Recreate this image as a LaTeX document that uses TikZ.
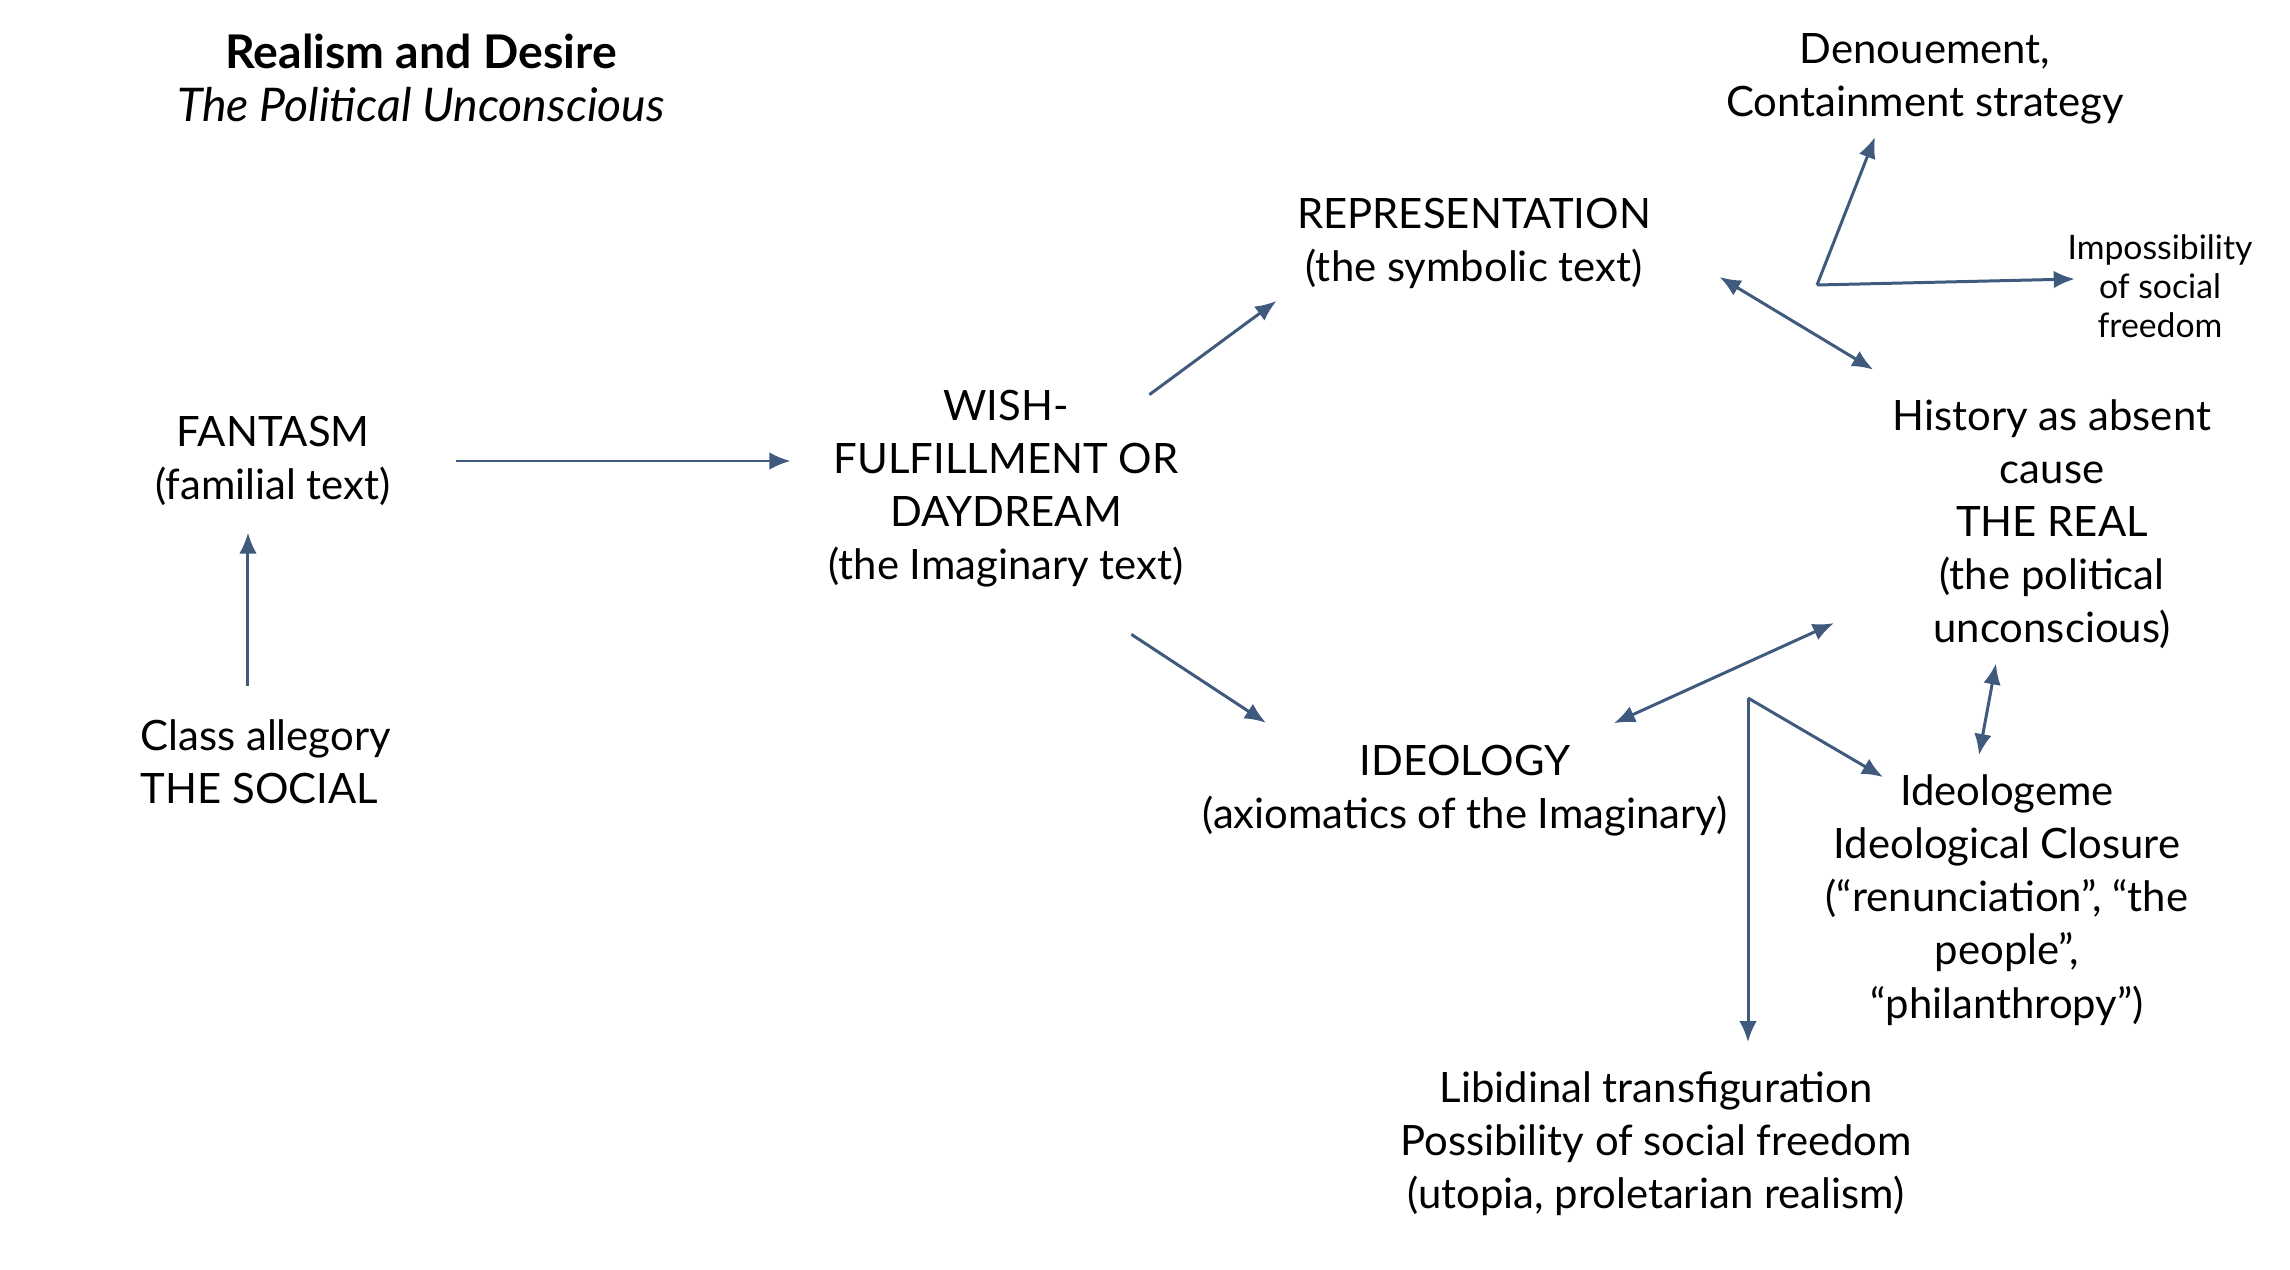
\documentclass[tikz,border=0pt]{standalone}
\usepackage{fontspec}
\setmainfont{Lato}
\usepackage{tikz}
\usetikzlibrary{positioning,arrows.meta}
\definecolor{linkblue}{HTML}{3F5A7D}

\begin{document}
\begin{tikzpicture}[x=0.01cm,y=-0.01cm,
    txt/.style={align=center,inner sep=0pt,font=\fontsize{11.9}{15.1}\selectfont},
    smalltxt/.style={align=center,inner sep=0pt,font=\fontsize{9.6}{11.1}\selectfont},
    headtxt/.style={align=center,inner sep=0pt,font=\fontsize{13.2}{15.1}\selectfont},
    link/.style={-{Latex[length=6pt,width=5pt]},draw=linkblue,line width=0.85pt},
    twoway/.style={{Latex[length=6pt,width=5pt]}-{Latex[length=6pt,width=5pt]},draw=linkblue,line width=0.85pt}]
    \useasboundingbox (0,0) rectangle (2290,1270);
    % headings
    \node[headtxt] (title) at (421,78) {\textbf{Realism and Desire}\\\textit{The Political Unconscious}};
    % left and middle
    \node[txt] (fantasm) at (273,461) {FANTASM\\(familial text)};
    \node[txt,align=left,anchor=west] (social) at (140,762) {Class allegory\\THE SOCIAL};
    \node[txt] (wish) at (1006,489) {WISH-\\FULFILLMENT OR\\DAYDREAM\\(the Imaginary text)};
    \node[txt] (repr) at (1474,243) {REPRESENTATION\\(the symbolic text)};
    \node[txt] (ideology) at (1465,791) {IDEOLOGY\\(axiomatics of the Imaginary)};
    % right side
    \node[txt] (denouement) at (1925,79) {Denouement,\\Containment strategy};
    \node[smalltxt] (impos) at (2160,286) {Impossibility\\of social\\freedom};
    \node[txt] (real) at (2052,524) {History as absent\\cause\\THE REAL\\(the political\\unconscious)};
    \node[txt] (ideologeme) at (2007,900) {Ideologeme\\Ideological Closure\\(“renunciation”, “the\\people”,\\“philanthropy”)};
    \node[txt] (libidinal) at (1656,1144) {Libidinal transfiguration\\Possibility of social freedom\\(utopia, proletarian realism)};
    \coordinate (fork) at (1817,285);
    \coordinate (split) at (1748,698);
    % arrows
    \draw[link,shorten <=0.65cm,shorten >=0.37cm] (fantasm.east) -- (fantasm.east -| wish.west);
    \draw[link,shorten <=0.33cm,shorten >=0.26cm] ([xshift=-0.25cm]fantasm.south |- social.north) -- ([xshift=-0.25cm]fantasm.south);
    \draw[link] ([xshift=-0.35cm,yshift=-0.05cm]wish.north east) -- ([xshift=-0.2cm,yshift=-0.12cm]repr.south west);
    \draw[link] ([xshift=-0.53cm,yshift=-0.46cm]wish.south east) -- ([xshift=0.64cm,yshift=0.22cm]ideology.north west);
    \draw[twoway] ([xshift=0.68cm,yshift=0.12cm]repr.south east) -- ([xshift=-0.19cm,yshift=0.29cm]real.north west);
    \draw[link] (fork) -- ([xshift=-0.5cm,yshift=-0.12cm]denouement.south);
    \draw[link] (fork) -- ([xshift=0.08cm,yshift=0.07cm]impos.west);
    \draw[twoway,shorten <=0.52cm,shorten >=0.64cm] (ideology) -- (real);
    \draw[link,shorten >=0.29cm] (split) -- (split |- libidinal.north);
    \draw[link] (split) -- ([xshift=0.58cm,yshift=-0.03cm]ideologeme.north west);
    \draw[twoway] ([xshift=-0.28cm,yshift=0.19cm]ideologeme.north) -- ([xshift=-0.56cm,yshift=-0.14cm]real.south);
\end{tikzpicture}
\end{document}
